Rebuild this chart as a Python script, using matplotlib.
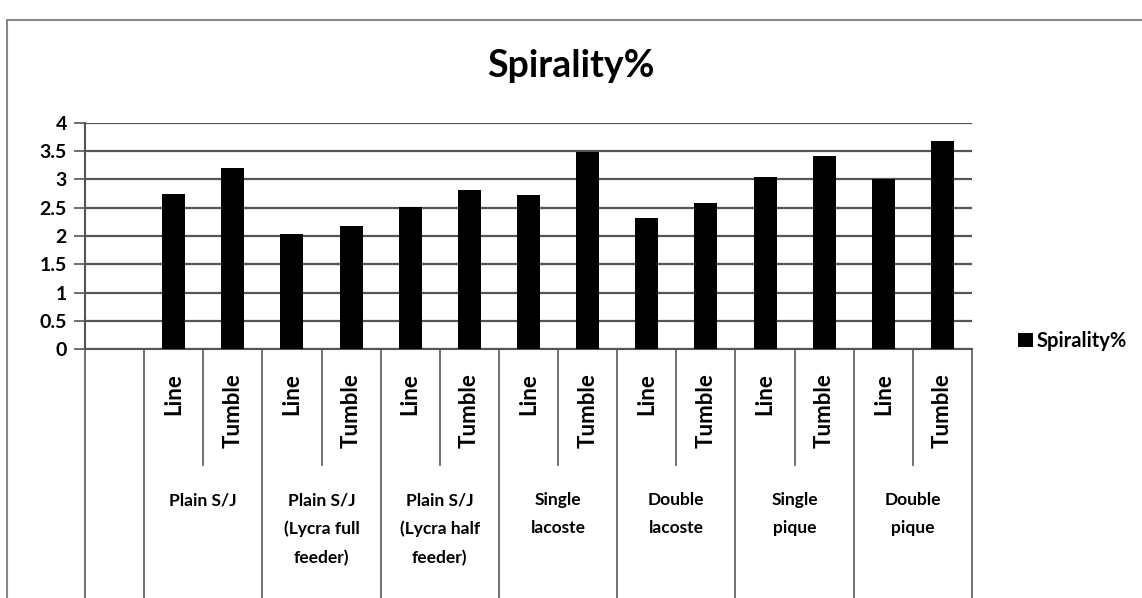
import matplotlib
matplotlib.use('Agg')
import matplotlib.pyplot as plt
import matplotlib.transforms as mtrans
from matplotlib.patches import Rectangle

# Data
kain = ['Plain S/J', 'Plain S/J\n(Lycra full\nfeeder)', 'Plain S/J\n(Lycra half\nfeeder)',
        'Single\nlacoste', 'Double\nlacoste', 'Single\npique', 'Double\npique']
metode = ['Line', 'Tumble']
line_vals = [2.75, 2.03, 2.52, 2.73, 2.32, 3.05, 3.0]
tumble_vals = [3.2, 2.18, 2.82, 3.48, 2.58, 3.42, 3.68]
y_ticks = [0, 0.5, 1, 1.5, 2, 2.5, 3, 3.5, 4]
y_labels = ['0', '0.5', '1', '1.5', '2', '2.5', '3', '3.5', '4']

plt.rcParams['font.family'] = ['Lato', 'DejaVu Sans']

W, H = 1142, 598
fig = plt.figure(figsize=(W / 100, H / 100), dpi=100)
ax = fig.add_axes([85 / W, 1 - 349 / H, (972 - 85) / W, (349 - 123) / H])

# Posisi batang: slot 0 kosong, lalu Line/Tumble per kain
nilai = []
for a, b in zip(line_vals, tumble_vals):
    nilai += [a, b]
posisi = list(range(1, len(nilai) + 1))
bars = ax.bar(posisi, nilai, width=0.39, color='black', zorder=3, label='Spirality%')

ax.set_xlim(-0.5, len(nilai) + 0.5)
ax.set_ylim(0, 4)
ax.set_yticks(y_ticks)
ax.set_yticklabels(y_labels, fontsize=14, fontweight='bold')
ax.set_xticks([])
ax.grid(axis='y', color='#555555', linewidth=1.6, zorder=0)
ax.tick_params(axis='y', length=8, width=1.2, color='#555555', pad=5)
for s in ['top', 'right']:
    ax.spines[s].set_visible(False)
ax.spines['left'].set_color('#555555')
ax.spines['left'].set_linewidth(1.5)
ax.spines['bottom'].set_color('#555555')
ax.spines['bottom'].set_linewidth(1.5)

# Tabel kategori di bawah sumbu x
tr = mtrans.blended_transform_factory(ax.transData, fig.transFigure)
y0 = 1 - 349 / H
y_inner = 1 - 465 / H
batas = [-0.5, 0.5] + [0.5 + 2 * (i + 1) for i in range(len(kain))]
for xb in batas:
    ax.plot([xb, xb], [y0, 0.0], transform=tr, color='#666666', lw=1.3, clip_on=False)
for i in range(len(kain)):
    xb = 1.5 + 2 * i
    ax.plot([xb, xb], [y0, y_inner], transform=tr, color='#666666', lw=1.3, clip_on=False)

for i, p in enumerate(posisi):
    ax.text(p, 1 - 373 / H, metode[i % 2], transform=tr, rotation=90, ha='center', va='top',
            fontsize=16, fontweight='bold')
for i, nama in enumerate(kain):
    ax.text(1.5 + 2 * i, 1 - 492 / H, nama, transform=tr, ha='center', va='top',
            fontsize=12.5, fontweight='bold', linespacing=1.95)

fig.text(571 / W, 1 - 66 / H, 'Spirality%', ha='center', va='center', fontsize=27, fontweight='bold')

# Legenda
fig.legend(handles=[bars], labels=['Spirality%'], loc='center left', bbox_to_anchor=(1000 / W, 1 - 341 / H),
           frameon=False, handlelength=0.75, handleheight=0.75, handletextpad=0.15,
           prop={'size': 14.5, 'weight': 'bold'})

# Bingkai grafik
fig.patches.append(Rectangle((7 / W, -0.02), 1.1, 1 - 20 / H + 0.02, transform=fig.transFigure,
                             fill=False, edgecolor='#888888', lw=1.5))

fig.savefig('out.png', dpi=100)
